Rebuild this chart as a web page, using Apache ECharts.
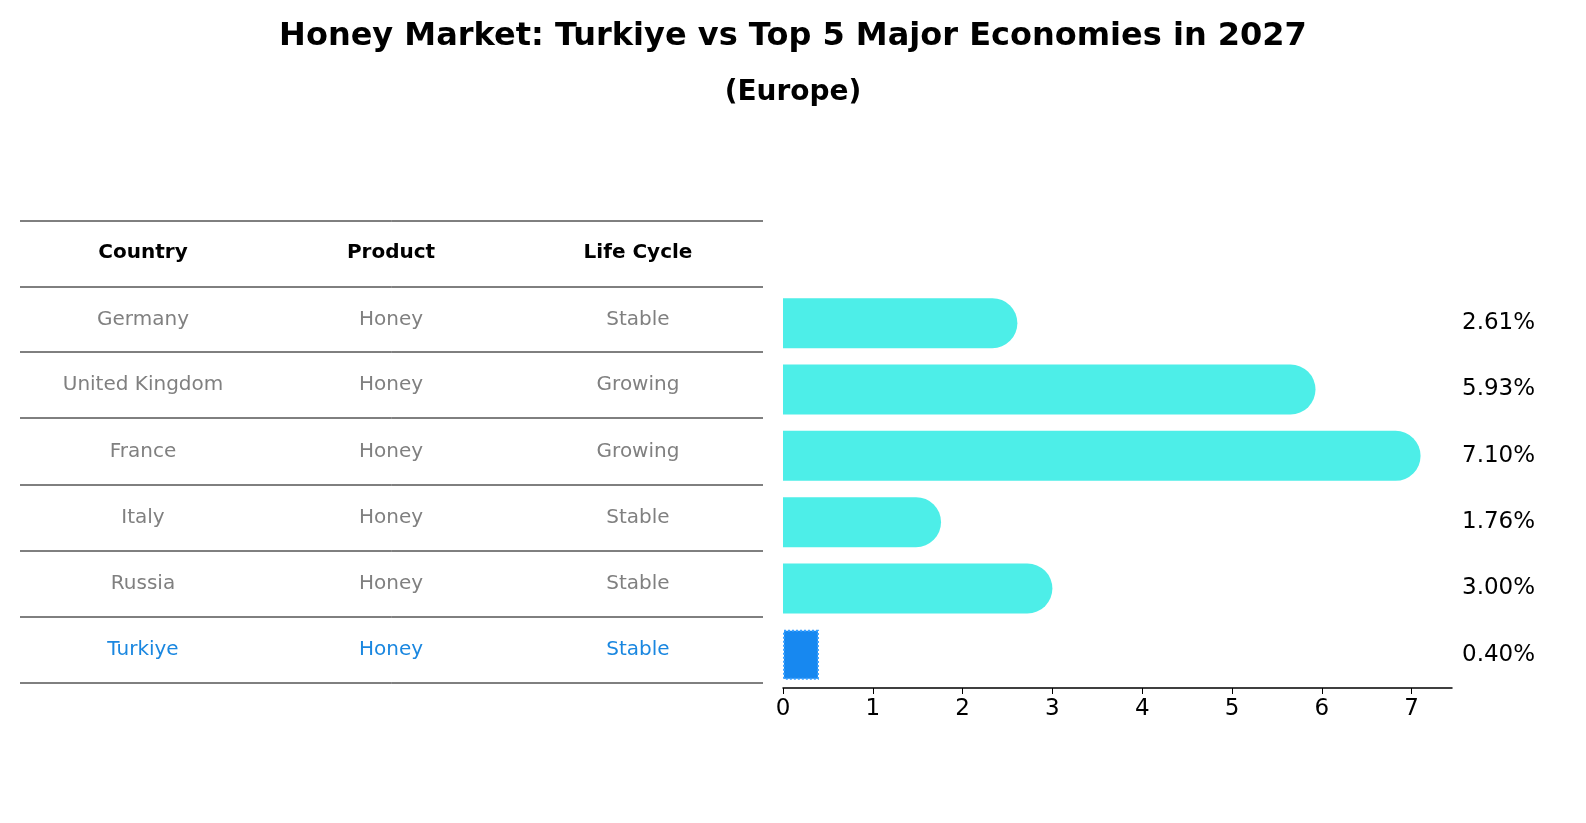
<!DOCTYPE html>
<html>
<head>
<meta charset="utf-8">
<script src="https://cdn.jsdelivr.net/npm/echarts@6/dist/echarts.min.js"></script>
<style>html,body{margin:0;background:#fff}#chart{width:1586px;height:823px}</style>
</head>
<body>
<div id="chart"></div>
<script>
const countries = ["Germany", "United Kingdom", "France", "Italy", "Russia", "Turkiye"];
const products = ["Honey", "Honey", "Honey", "Honey", "Honey", "Honey"];
const lifeCycles = ["Stable", "Growing", "Growing", "Stable", "Stable", "Stable"];
const growth = [2.61, 5.93, 7.10, 1.76, 3.00, 0.40];
const headers = ["Country", "Product", "Life Cycle"];

const chart = echarts.init(document.getElementById("chart"));
const font = '"DejaVu Sans", sans-serif';

// table drawn as graphic elements
const colX = [143, 391, 638];
const lineYs = [221, 287, 352, 418, 485, 551, 617, 683];
const graphics = [];
lineYs.forEach((y) => {
  graphics.push({ type: "line", shape: { x1: 20, y1: y, x2: 763, y2: y }, style: { stroke: "#000", lineWidth: 1 } });
});
headers.forEach((h, i) => {
  graphics.push({ type: "text", x: colX[i], y: 253, style: { text: h, fontFamily: font, fontSize: 20, fontWeight: "bold", fill: "#000", align: "center", verticalAlign: "middle" } });
});
countries.forEach((c, r) => {
  const y = (lineYs[r + 1] + lineYs[r + 2]) / 2;
  const color = c === "Turkiye" ? "#1a87e0" : "#808080";
  [c, products[r], lifeCycles[r]].forEach((t, i) => {
    graphics.push({ type: "text", x: colX[i], y: y, style: { text: t, fontFamily: font, fontSize: 20, fill: color, align: "center", verticalAlign: "middle" } });
  });
});

chart.setOption({
  title: {
    text: "Honey Market: Turkiye vs Top 5 Major Economies in 2027",
    subtext: "(Europe)",
    left: "center",
    top: 16,
    itemGap: 26,
    textStyle: { fontFamily: font, fontSize: 32, fontWeight: "bold", color: "#000" },
    subtextStyle: { fontFamily: font, fontSize: 28, fontWeight: "bold", color: "#000" }
  },
  graphic: graphics,
  grid: { left: 783, right: 134, top: 290, bottom: 135 },
  xAxis: {
    type: "value", min: 0, max: 7.45, interval: 1,
    splitLine: { show: false },
    axisLine: { show: true, lineStyle: { color: "#000", width: 1.5 } },
    axisTick: { show: true, length: 6, lineStyle: { color: "#000" } },
    axisLabel: { fontFamily: font, fontSize: 23, color: "#000", margin: 10, showMaxLabel: false }
  },
  yAxis: {
    type: "category", inverse: true, position: "right",
    data: growth.map((v) => v.toFixed(2) + "%"),
    axisLine: { show: false }, axisTick: { show: false },
    axisLabel: { fontFamily: font, fontSize: 23, color: "#000", margin: 10 }
  },
  series: [{
    type: "bar",
    barWidth: 50,
    data: growth.map((v, i) => countries[i] === "Turkiye"
      ? { value: v, itemStyle: { color: "#1788f0", borderColor: "#3aa0ff", borderWidth: 2, borderType: "dotted", borderRadius: 0 } }
      : { value: v, itemStyle: { color: "#4deee8", borderRadius: [0, 25, 25, 0] } }),
    animation: false
  }]
});
</script>
</body>
</html>
